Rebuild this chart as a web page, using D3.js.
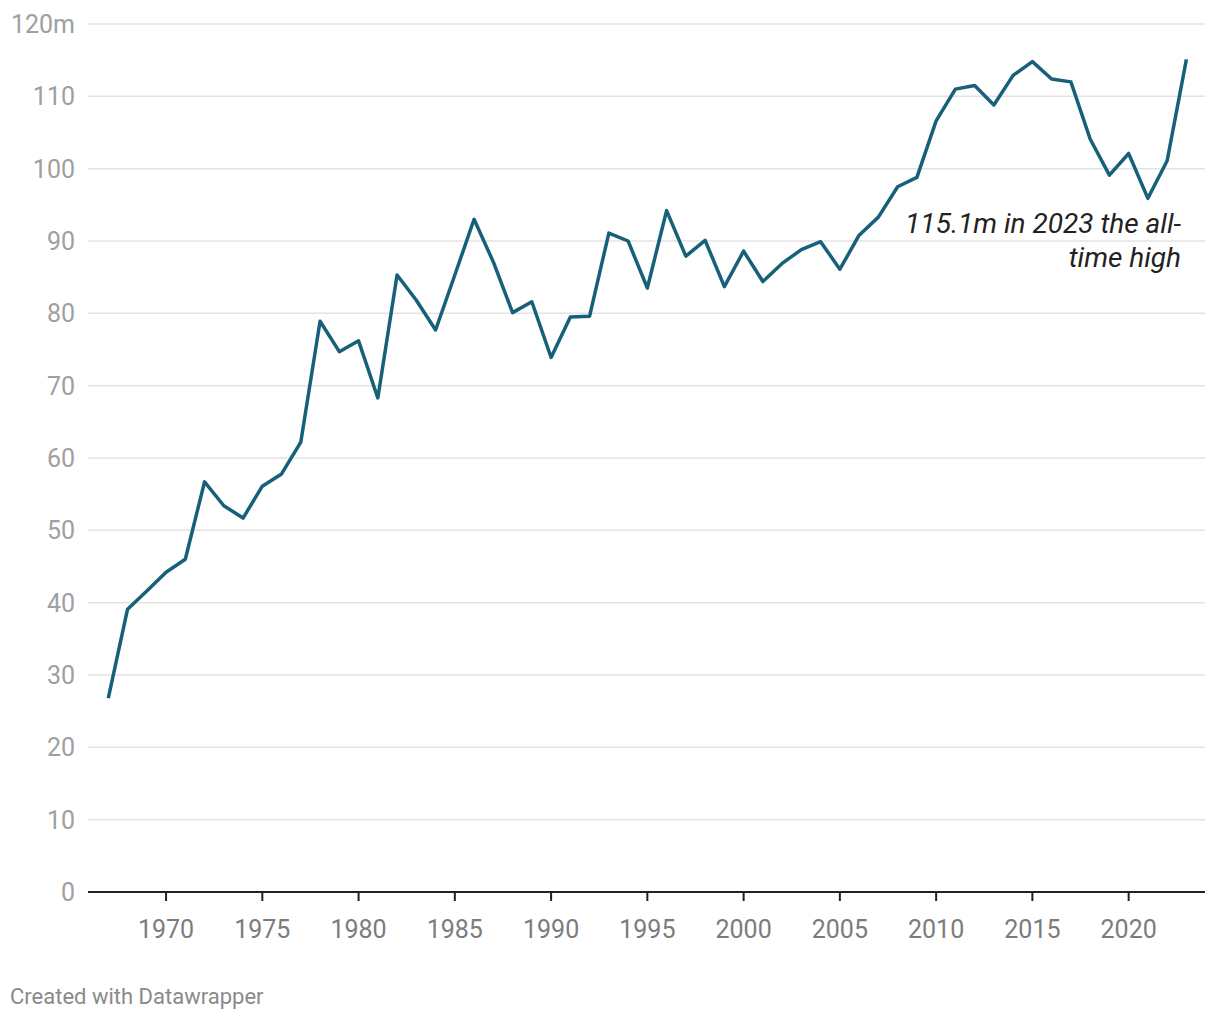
<!DOCTYPE html>
<html>
<head>
<meta charset="utf-8">
<script src="https://cdn.jsdelivr.net/npm/d3@7"></script>
<style>
  body { margin: 0; background: #fff; font-family: Roboto, sans-serif; }
  .grid line { stroke: #e3e3e3; stroke-width: 1.5; }
  .y-axis text { fill: #a0a0a0; font-size: 25px; }
  .x-axis text { fill: #7c7c7c; font-size: 25px; }
</style>
</head>
<body>
<svg width="1220" height="1020"></svg>
<script>
const years = d3.range(1967, 2024);
const values = [
  26.8, 39.1, 41.6, 44.2, 46.0, 56.7, 53.4, 51.7, 56.1, 57.8,
  62.2, 78.9, 74.7, 76.2, 68.3, 85.3, 81.8, 77.7, 85.3, 93.0,
  87.1, 80.1, 81.6, 73.9, 79.5, 79.6, 91.1, 90.0, 83.5, 94.2,
  87.9, 90.1, 83.7, 88.6, 84.4, 86.9, 88.8, 89.9, 86.1, 90.8,
  93.3, 97.5, 98.8, 106.6, 111.0, 111.5, 108.8, 112.9, 114.8, 112.4,
  112.0, 104.1, 99.1, 102.1, 95.9, 101.1, 115.1
];
const yTicks = [0, 10, 20, 30, 40, 50, 60, 70, 80, 90, 100, 110, 120];
const xTicks = [1970, 1975, 1980, 1985, 1990, 1995, 2000, 2005, 2010, 2015, 2020];
const note = ["115.1m in 2023 the all-", "time high"];

const data = years.map((y, i) => ({ year: y, value: values[i] }));

const svg = d3.select('svg');
const mLeft = 88, mRight = 1205, mTop = 24, mBottom = 892;

const x = d3.scaleLinear().domain([1967, 2023]).range([108.3, 1186.4]);
const y = d3.scaleLinear().domain([0, 120]).range([mBottom, mTop]);

// gridlines
svg.append('g').attr('class', 'grid')
  .selectAll('line')
  .data(yTicks.filter(d => d > 0))
  .join('line')
  .attr('x1', mLeft).attr('x2', mRight)
  .attr('y1', d => y(d)).attr('y2', d => y(d));

// y labels
svg.append('g').attr('class', 'y-axis')
  .selectAll('text')
  .data(yTicks)
  .join('text')
  .attr('x', 75)
  .attr('y', d => y(d))
  .attr('dy', '0.36em')
  .attr('text-anchor', 'end')
  .text(d => d === 120 ? '120m' : d);

// x axis
const xAxis = svg.append('g').attr('class', 'x-axis')
  .attr('transform', `translate(0,${mBottom})`);
xAxis.append('line')
  .attr('x1', mLeft).attr('x2', mRight)
  .attr('stroke', '#222').attr('stroke-width', 2);
xAxis.selectAll('line.tick')
  .data(xTicks)
  .join('line')
  .attr('class', 'tick')
  .attr('x1', d => x(d)).attr('x2', d => x(d))
  .attr('y1', 0).attr('y2', 9)
  .attr('stroke', '#222').attr('stroke-width', 2);
xAxis.selectAll('text')
  .data(xTicks)
  .join('text')
  .attr('x', d => x(d))
  .attr('y', 46)
  .attr('text-anchor', 'middle')
  .text(d => d);

// line
const line = d3.line().x(d => x(d.year)).y(d => y(d.value));
svg.append('path')
  .datum(data)
  .attr('d', line)
  .attr('fill', 'none')
  .attr('stroke', '#166079')
  .attr('stroke-width', 3.5)
  .attr('stroke-linejoin', 'round');

// annotation
svg.append('text')
  .attr('x', 1181)
  .attr('y', 233)
  .attr('text-anchor', 'end')
  .attr('font-style', 'italic')
  .attr('font-size', 28)
  .attr('fill', '#222')
  .selectAll('tspan')
  .data(note)
  .join('tspan')
  .attr('x', 1181)
  .attr('dy', (d, i) => i ? 34 : 0)
  .text(d => d);

// footer
svg.append('text')
  .attr('x', 10).attr('y', 1004)
  .attr('font-size', 22)
  .attr('fill', '#8a8a8a')
  .text('Created with Datawrapper');
</script>
</body>
</html>
